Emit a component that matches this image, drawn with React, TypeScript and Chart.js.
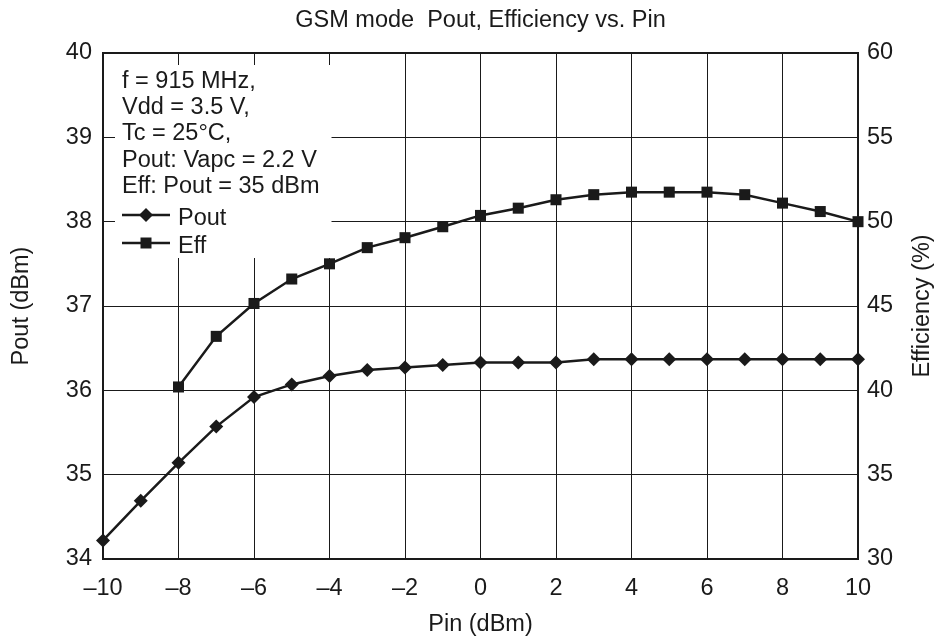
import React, { useEffect, useRef } from 'react';
import { Chart, registerables } from 'chart.js';

Chart.register(...registerables);

// ---- data ----
const pinValues = [-10, -9, -8, -7, -6, -5, -4, -3, -2, -1, 0, 1, 2, 3, 4, 5, 6, 7, 8, 9, 10];
const poutValues = [34.22, 34.69, 35.14, 35.57, 35.92, 36.07, 36.17, 36.24, 36.27, 36.3, 36.33, 36.33, 36.33, 36.37, 36.37, 36.37, 36.37, 36.37, 36.37, 36.37, 36.37];
const effPinValues = [-8, -7, -6, -5, -4, -3, -2, -1, 0, 1, 2, 3, 4, 5, 6, 7, 8, 9, 10];
const effValues = [40.2, 43.2, 45.15, 46.6, 47.5, 48.46, 49.05, 49.7, 50.37, 50.8, 51.3, 51.6, 51.75, 51.75, 51.75, 51.6, 51.1, 50.6, 50.0];
const xTickValues = [-10, -8, -6, -4, -2, 0, 2, 4, 6, 8, 10];
const noteLines = ['f = 915 MHz,', 'Vdd = 3.5 V,', 'Tc = 25\u00B0C,', 'Pout: Vapc = 2.2 V', 'Eff: Pout = 35 dBm'];
const seriesNames = ['Pout', 'Eff'];
const titleText = 'GSM mode  Pout, Efficiency vs. Pin';
const xTitle = 'Pin (dBm)';
const yLeftTitle = 'Pout (dBm)';
const yRightTitle = 'Efficiency (%)';

const FONT = '"Liberation Sans", Arial, Helvetica, sans-serif';
const FS = 23.5;
const INK = '#1a1a1a';

const overlayPlugin = {
  id: 'overlay',
  beforeDatasetsDraw(chart: any) {
    const { ctx, chartArea: a } = chart;
    const xs = chart.scales.x;
    ctx.save();
    // white note box
    ctx.fillStyle = '#ffffff';
    const bx0 = a.left + 12;
    const by0 = a.top + 12;
    const bx1 = xs.getPixelForValue(-4) + 2;
    const by1 = a.top + 205;
    ctx.fillRect(bx0, by0, bx1 - bx0, by1 - by0);

    ctx.fillStyle = INK;
    ctx.font = `${FS}px ${FONT}`;
    ctx.textAlign = 'left';
    ctx.textBaseline = 'alphabetic';
    const tx = a.left + 19;
    noteLines.forEach((t, i) => {
      ctx.fillText(t, tx, a.top + 35 + i * 26.2);
    });
    // legend entries
    const ly = [a.top + 162, a.top + 190];
    ctx.strokeStyle = INK;
    ctx.lineWidth = 2.5;
    ly.forEach((y, i) => {
      ctx.beginPath();
      ctx.moveTo(tx, y);
      ctx.lineTo(tx + 48, y);
      ctx.stroke();
      const cx = tx + 24;
      ctx.beginPath();
      if (i === 0) {
        ctx.moveTo(cx, y - 7);
        ctx.lineTo(cx + 7, y);
        ctx.lineTo(cx, y + 7);
        ctx.lineTo(cx - 7, y);
        ctx.closePath();
      } else {
        ctx.rect(cx - 5.5, y - 5.5, 11, 11);
      }
      ctx.fill();
      ctx.fillText(seriesNames[i], tx + 56, y + 9.5);
    });

    // top border
    ctx.lineWidth = 2;
    ctx.beginPath();
    ctx.moveTo(a.left - 1, a.top);
    ctx.lineTo(a.right + 1, a.top);
    ctx.stroke();
    ctx.restore();
  },
  afterDraw(chart: any) {
    const { ctx, chartArea: a } = chart;
    ctx.save();
    ctx.fillStyle = INK;
    ctx.font = `${FS}px ${FONT}`;
    ctx.textBaseline = 'alphabetic';
    ctx.textAlign = 'center';
    const cx = (a.left + a.right) / 2;
    const cy = (a.top + a.bottom) / 2;
    ctx.fillText(titleText, cx, 27);
    ctx.fillText(xTitle, cx, 631);
    ctx.save();
    ctx.translate(28, cy);
    ctx.rotate(-Math.PI / 2);
    ctx.fillText(yLeftTitle, 0, 0);
    ctx.restore();
    ctx.save();
    ctx.translate(929, cy);
    ctx.rotate(-Math.PI / 2);
    ctx.fillText(yRightTitle, 0, 0);
    ctx.restore();
    ctx.restore();
  },
};

export default function App() {
  const ref = useRef<HTMLCanvasElement | null>(null);
  useEffect(() => {
    document.body.style.margin = '0';
    const canvas = ref.current;
    if (!canvas) return;
    const tickFont = { family: FONT, size: FS };
    const chart = new Chart(canvas, {
      type: 'line',
      data: {
        datasets: [
          {
            label: seriesNames[0],
            data: pinValues.map((x, i) => ({ x, y: poutValues[i] })),
            yAxisID: 'y',
            borderColor: INK,
            backgroundColor: INK,
            borderWidth: 2.5,
            pointStyle: 'rectRot',
            pointRadius: 7,
            pointBorderWidth: 0,
            tension: 0,
            clip: false as any,
          },
          {
            label: seriesNames[1],
            data: effPinValues.map((x, i) => ({ x, y: effValues[i] })),
            yAxisID: 'y1',
            borderColor: INK,
            backgroundColor: INK,
            borderWidth: 2.5,
            pointStyle: 'rect',
            pointRadius: 7.8,
            pointBorderWidth: 0,
            tension: 0,
            clip: false as any,
          },
        ],
      },
      options: {
        animation: false,
        responsive: false,
        devicePixelRatio: 1,
        layout: { padding: { top: 53, left: 0, right: 0, bottom: 0 } },
        plugins: { legend: { display: false }, title: { display: false }, tooltip: { enabled: false } },
        scales: {
          x: {
            type: 'linear',
            min: -10,
            max: 10,
            afterBuildTicks: (s: any) => {
              s.ticks = xTickValues.map((v) => ({ value: v }));
            },
            afterFit: (s: any) => {
              s.height = 80;
            },
            grid: { color: INK, lineWidth: 1, drawTicks: false },
            border: { color: INK, width: 2 },
            ticks: {
              color: INK,
              font: tickFont,
              padding: 15,
              maxRotation: 0,
              autoSkip: false,
              callback: (v: any) => String(v).replace('-', '\u2013'),
            },
          },
          y: {
            position: 'left',
            min: 34,
            max: 40,
            afterFit: (s: any) => {
              s.width = 103;
            },
            grid: { color: INK, lineWidth: 1, drawTicks: false },
            border: { color: INK, width: 2 },
            ticks: { color: INK, font: tickFont, padding: 11, stepSize: 1 },
          },
          y1: {
            position: 'right',
            min: 30,
            max: 60,
            afterFit: (s: any) => {
              s.width = 82;
            },
            grid: { display: false, drawTicks: false },
            border: { color: INK, width: 2 },
            ticks: { color: INK, font: tickFont, padding: 9, stepSize: 5 },
          },
        },
      } as any,
      plugins: [overlayPlugin],
    });
    return () => chart.destroy();
  }, []);
  return (
    <div style={{ width: 940, height: 639 }}>
      <canvas ref={ref} width={940} height={639} style={{ display: 'block' }} />
    </div>
  );
}
